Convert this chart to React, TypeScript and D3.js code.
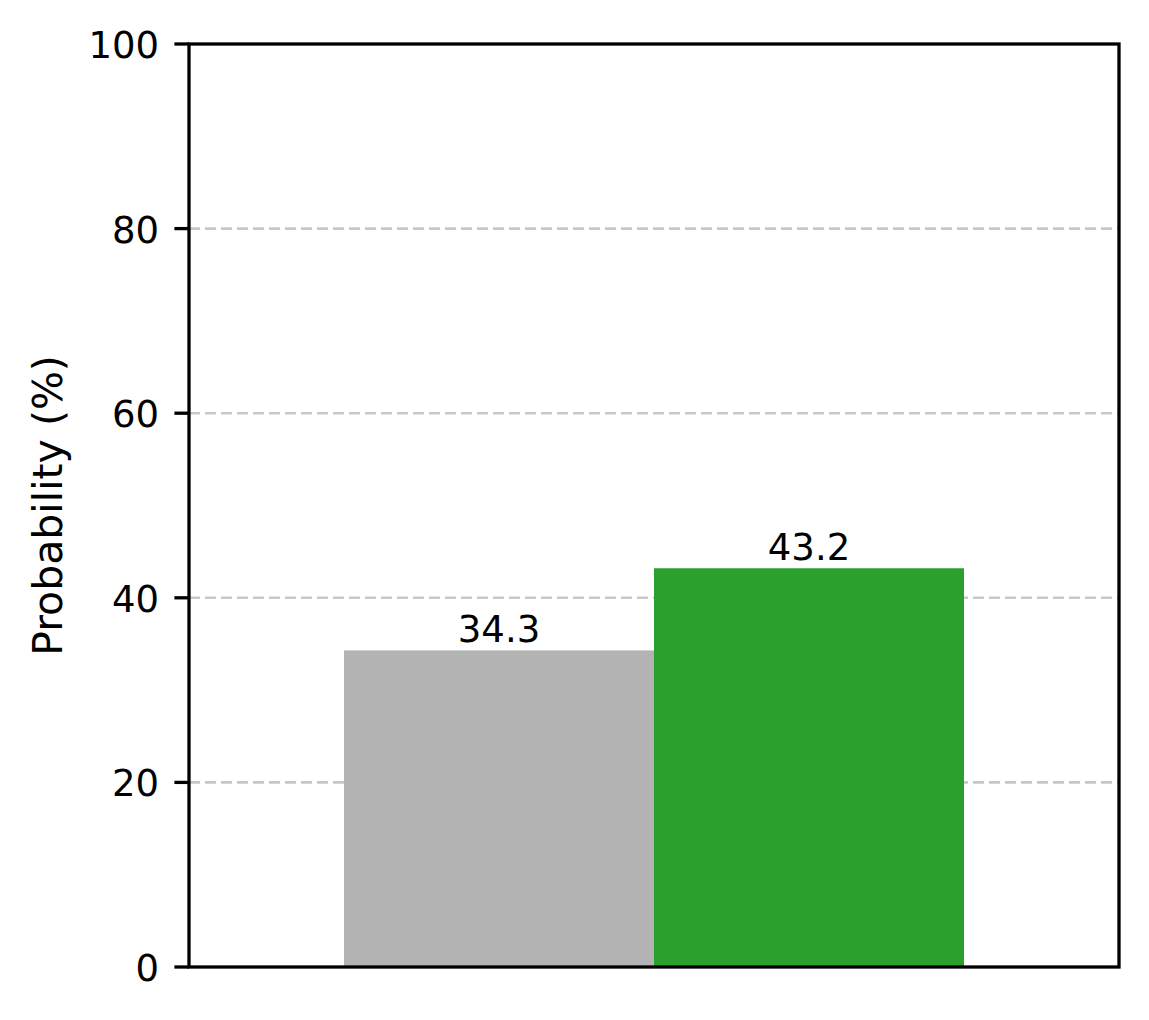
import { useEffect, useRef } from 'react';
import * as d3 from 'd3';

// series shown as two side-by-side bars
const seriesNames = ['baseline', 'ours'];
const seriesValues = [34.3, 43.2];
const seriesColors = ['#b3b3b3', '#2ca02c'];
const yTicks = [0, 20, 40, 60, 80, 100];
const gridTicks = [20, 40, 60, 80];
const yLabel = 'Probability (%)';

export default function App() {
  const ref = useRef<SVGSVGElement>(null);

  useEffect(() => {
    const W = 1149;
    const H = 1020;
    const margin = { top: 44, right: 30, bottom: 53, left: 189 };
    const font = 'DejaVu Sans, sans-serif';

    const svg = d3.select(ref.current);
    svg.selectAll('*').remove();
    svg.attr('width', W).attr('height', H).attr('viewBox', `0 0 ${W} ${H}`);

    const x0 = margin.left;
    const x1 = W - margin.right;
    const y0 = H - margin.bottom;
    const y1 = margin.top;

    const x = d3.scaleBand<string>().domain(seriesNames).range([x0, x1]).paddingInner(0).paddingOuter(0.5);
    const y = d3.scaleLinear().domain([0, 100]).range([y0, y1]);

    svg.append('rect').attr('width', W).attr('height', H).attr('fill', '#fff');

    // grid
    svg
      .append('g')
      .selectAll('line')
      .data(gridTicks)
      .join('line')
      .attr('x1', x0)
      .attr('x2', x1)
      .attr('y1', (d) => y(d))
      .attr('y2', (d) => y(d))
      .attr('stroke', '#c8c8c8')
      .attr('stroke-width', 2.6)
      .attr('stroke-dasharray', '11,5');

    // bars
    const data = seriesNames.map((name, i) => ({ name, value: seriesValues[i], color: seriesColors[i] }));
    svg
      .append('g')
      .selectAll('rect')
      .data(data)
      .join('rect')
      .attr('x', (d) => x(d.name)!)
      .attr('y', (d) => y(d.value))
      .attr('width', x.bandwidth())
      .attr('height', (d) => y0 - y(d.value))
      .attr('fill', (d) => d.color);

    // bar labels
    svg
      .append('g')
      .selectAll('text')
      .data(data)
      .join('text')
      .attr('x', (d) => x(d.name)! + x.bandwidth() / 2)
      .attr('y', (d) => y(d.value) - 8)
      .attr('text-anchor', 'middle')
      .attr('font-family', font)
      .attr('font-size', 37)
      .attr('fill', '#000')
      .text((d) => d.value.toFixed(1));

    // frame
    svg
      .append('rect')
      .attr('x', x0)
      .attr('y', y1)
      .attr('width', x1 - x0)
      .attr('height', y0 - y1)
      .attr('fill', 'none')
      .attr('stroke', '#000')
      .attr('stroke-width', 3.3);

    // Y axis ticks
    const yAxis = svg.append('g');
    yAxis
      .selectAll('line')
      .data(yTicks)
      .join('line')
      .attr('x1', x0 - 14.6)
      .attr('x2', x0)
      .attr('y1', (d) => y(d))
      .attr('y2', (d) => y(d))
      .attr('stroke', '#000')
      .attr('stroke-width', 3.3);
    yAxis
      .selectAll('text')
      .data(yTicks)
      .join('text')
      .attr('x', x0 - 30)
      .attr('y', (d) => y(d) + 14)
      .attr('text-anchor', 'end')
      .attr('font-family', font)
      .attr('font-size', 37)
      .attr('fill', '#000')
      .text((d) => `${d}`);

    // Y label
    svg
      .append('text')
      .attr('transform', `translate(62,${(y0 + y1) / 2}) rotate(-90)`)
      .attr('text-anchor', 'middle')
      .attr('font-family', font)
      .attr('font-size', 41)
      .attr('fill', '#000')
      .text(yLabel);
  }, []);

  return <svg ref={ref} style={{ position: 'absolute', left: 0, top: 0, display: 'block' }} />;
}
